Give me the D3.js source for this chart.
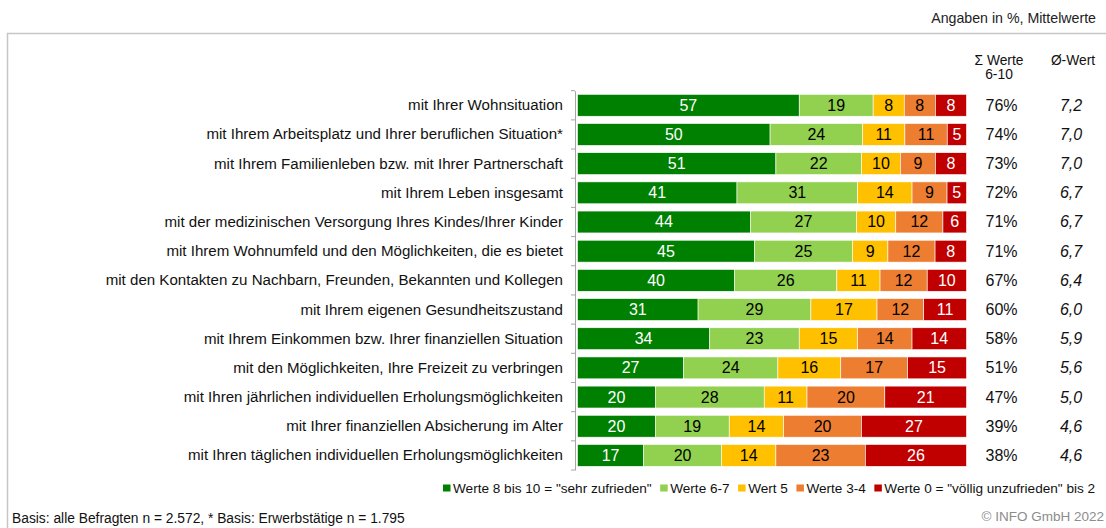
<!DOCTYPE html>
<html><head><meta charset="utf-8">
<script src="https://cdn.jsdelivr.net/npm/d3@7"></script>
<style>body{margin:0;background:#fff}svg{display:block;font-family:"Liberation Sans",Arial,sans-serif}</style>
</head><body><svg id="c" width="1106" height="528"></svg>
<script>
const categories = [
 "mit Ihrer Wohnsituation",
 "mit Ihrem Arbeitsplatz und Ihrer beruflichen Situation*",
 "mit Ihrem Familienleben bzw. mit Ihrer Partnerschaft",
 "mit Ihrem Leben insgesamt",
 "mit der medizinischen Versorgung Ihres Kindes/Ihrer Kinder",
 "mit Ihrem Wohnumfeld und den Möglichkeiten, die es bietet",
 "mit den Kontakten zu Nachbarn, Freunden, Bekannten und Kollegen",
 "mit Ihrem eigenen Gesundheitszustand",
 "mit Ihrem Einkommen bzw. Ihrer finanziellen Situation",
 "mit den Möglichkeiten, Ihre Freizeit zu verbringen",
 "mit Ihren jährlichen individuellen Erholungsmöglichkeiten",
 "mit Ihrer finanziellen Absicherung im Alter",
 "mit Ihren täglichen individuellen Erholungsmöglichkeiten"
];
const seriesNames = ['Werte 8 bis 10 = "sehr zufrieden"', 'Werte 6-7', 'Wert 5', 'Werte 3-4', 'Werte 0 = "völlig unzufrieden" bis 2'];
const w8_10 = [57,50,51,41,44,45,40,31,34,27,20,20,17];
const w6_7  = [19,24,22,31,27,25,26,29,23,24,28,19,20];
const w5    = [8,11,10,14,10,9,11,17,15,16,11,14,14];
const w3_4  = [8,11,9,9,12,12,12,12,14,17,20,20,23];
const w0_2  = [8,5,8,5,6,8,10,11,14,15,21,27,26];
const sumWerte = ["76%","74%","73%","72%","71%","71%","67%","60%","58%","51%","47%","39%","38%"];
const meanWert = ["7,2","7,0","7,0","6,7","6,7","6,7","6,4","6,0","5,9","5,6","5,0","4,6","4,6"];
const colors = ["#008000","#92D050","#FFC000","#ED7D31","#C00000"];
const labelColors = ["#fff","#000","#000","#000","#fff"];

const keys = ["a","b","c","d","e"];
const series = [w8_10,w6_7,w5,w3_4,w0_2];
const rows = categories.map((c,i)=>{const o={cat:c};keys.forEach((k,j)=>o[k]=series[j][i]);return o;});
const stacked = d3.stack().keys(keys).offset(d3.stackOffsetExpand)(rows);

const svg = d3.select("#c");
const x = d3.scaleLinear().domain([0,1]).range([577.5,966.5]);
const y = d3.scaleBand().domain(categories).range([90.7,470]).paddingInner(0.25).paddingOuter(0.125);

// frame
svg.append("line").attr("x1",7).attr("x2",1106).attr("y1",33.5).attr("y2",33.5).attr("stroke","#c6c6c6").attr("stroke-width",1.5);
svg.append("line").attr("x1",7.5).attr("x2",7.5).attr("y1",33).attr("y2",528).attr("stroke","#c6c6c6").attr("stroke-width",1.5);

svg.append("text").attr("x",1096).attr("y",23).attr("text-anchor","end").attr("font-size",14.2).attr("fill","#222").text("Angaben in %, Mittelwerte");

// axis
const axis = d3.axisLeft(y).tickSize(0).tickFormat("");
const ag = svg.append("g").attr("transform","translate(575,0)").call(axis);
ag.select(".domain").attr("stroke","#a6a6a6");
const bounds = categories.map((c,i)=>y(c)-y.step()*y.paddingInner()/2);
bounds.push(y(categories[categories.length-1])+y.bandwidth()+y.step()*y.paddingInner()/2);
ag.selectAll(".tb").data(bounds).join("line").attr("class","tb").attr("x1",-4).attr("x2",0).attr("y1",d=>d).attr("y2",d=>d).attr("stroke","#a6a6a6");

// category labels
svg.append("g").selectAll("text").data(categories).join("text")
 .attr("x",563).attr("y",d=>y(d)+y.bandwidth()/2+5).attr("text-anchor","end").attr("font-size",15.1).attr("fill","#111").text(d=>d);

// bars
const g = svg.append("g");
stacked.forEach((s,j)=>{
  const sg = g.append("g");
  sg.selectAll("rect").data(s).join("rect")
   .attr("x",d=>x(d[0])).attr("width",d=>x(d[1])-x(d[0]))
   .attr("y",d=>y(d.data.cat)).attr("height",y.bandwidth())
   .attr("fill",colors[j]).attr("stroke","#fff").attr("stroke-width",0.6);
  sg.selectAll("text").data(s).join("text")
   .attr("x",d=>(x(d[0])+x(d[1]))/2).attr("y",d=>y(d.data.cat)+y.bandwidth()/2+5.5)
   .attr("text-anchor","middle").attr("font-size",16).attr("fill",labelColors[j])
   .text(d=>d.data[keys[j]]);
});

// headers
const hdr = svg.append("g").attr("font-size",13.8).attr("fill","#111");
hdr.append("text").attr("x",999).attr("y",65).attr("text-anchor","middle").text("Σ Werte");
hdr.append("text").attr("x",999).attr("y",79).attr("text-anchor","middle").text("6-10");
hdr.append("text").attr("x",1073).attr("y",65).attr("text-anchor","middle").text("Ø-Wert");

svg.append("g").selectAll("text").data(sumWerte).join("text")
 .attr("x",1001.5).attr("y",(d,i)=>y(categories[i])+y.bandwidth()/2+5.5).attr("text-anchor","middle").attr("font-size",16).attr("fill","#111").text(d=>d);
svg.append("g").selectAll("text").data(meanWert).join("text")
 .attr("x",1071).attr("y",(d,i)=>y(categories[i])+y.bandwidth()/2+5.5).attr("text-anchor","middle").attr("font-size",16).attr("font-style","italic").attr("fill","#111").text(d=>d);

// legend
const lg = svg.append("g");
let lx = 443;
seriesNames.forEach((n,j)=>{
  lg.append("rect").attr("x",lx).attr("y",484.5).attr("width",7.5).attr("height",7).attr("fill",colors[j]);
  const t = lg.append("text").attr("x",lx+10).attr("y",492.5).attr("font-size",13.6).attr("fill","#111").text(n);
  lx = lx + 10 + t.node().getComputedTextLength() + 8.5;
});

svg.append("text").attr("x",12).attr("y",523).attr("font-size",13.8).attr("fill","#111").text("Basis: alle Befragten n = 2.572, * Basis: Erwerbstätige n = 1.795");
svg.append("text").attr("x",1104).attr("y",521).attr("text-anchor","end").attr("font-size",13.5).attr("fill","#8c8c8c").text("© INFO GmbH 2022");
</script></body></html>
